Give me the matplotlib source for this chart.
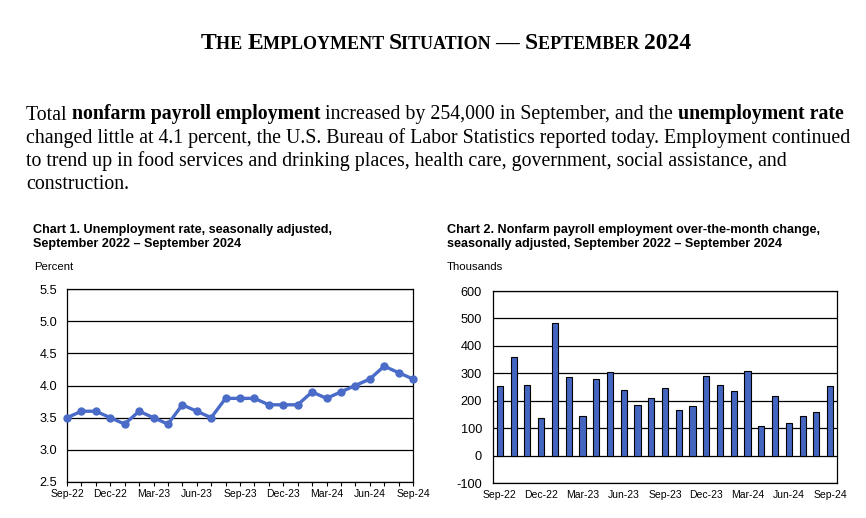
import matplotlib
matplotlib.use("Agg")
import matplotlib.pyplot as plt
import numpy as np

# monthly data, Sep 2022 - Sep 2024
months = ["Sep-22", "Oct-22", "Nov-22", "Dec-22", "Jan-23", "Feb-23", "Mar-23",
          "Apr-23", "May-23", "Jun-23", "Jul-23", "Aug-23", "Sep-23", "Oct-23",
          "Nov-23", "Dec-23", "Jan-24", "Feb-24", "Mar-24", "Apr-24", "May-24",
          "Jun-24", "Jul-24", "Aug-24", "Sep-24"]
unemp_rate = [3.5, 3.6, 3.6, 3.5, 3.4, 3.6, 3.5, 3.4, 3.7, 3.6, 3.5, 3.8, 3.8,
              3.8, 3.7, 3.7, 3.7, 3.9, 3.8, 3.9, 4.0, 4.1, 4.3, 4.2, 4.1]
payroll_chg = [255, 360, 258, 137, 484, 287, 146, 278, 303, 240, 184, 210, 246,
               165, 182, 290, 256, 236, 310, 108, 216, 118, 144, 159, 254]

title_parts = [("T", 17), ("HE ", 13), ("E", 17), ("MPLOYMENT ", 13),
               ("S", 17), ("ITUATION ", 13), ("— ", 17), ("S", 17),
               ("EPTEMBER ", 13), ("2024", 17)]
para_lines = [
    [("Total ", "normal"), ("nonfarm payroll employment", "bold"),
     (" increased by 254,000 in September, and the ", "normal"),
     ("unemployment rate", "bold")],
    [("changed little at 4.1 percent, the U.S. Bureau of Labor Statistics reported today. Employment continued", "normal")],
    [("to trend up in food services and drinking places, health care, government, social assistance, and", "normal")],
    [("construction.", "normal")],
]

plt.rcParams["axes.unicode_minus"] = False

W, H = 866, 518
fig = plt.figure(figsize=(W / 100, H / 100), dpi=100)
renderer = fig.canvas.get_renderer()
serif = "Liberation Serif"
sans = "Liberation Sans"


def px(x, y):
    return x / W, 1 - y / H


def run_text(parts, x0, y, style_fn):
    # draw pieces one after another on the same baseline
    x = x0
    for s, style in parts:
        t = fig.text(*px(x, y), s, va="baseline", ha="left", **style_fn(style))
        bb = t.get_window_extent(renderer)
        x = x + bb.width
    return x


# measure title width first to center it
tmp_w = 0
for s, sz in title_parts:
    t = fig.text(0, 0, s, fontsize=sz, fontweight="bold", family=serif)
    tmp_w += t.get_window_extent(renderer).width
    t.remove()
run_text(title_parts, 446 - tmp_w / 2, 49,
         lambda sz: dict(fontsize=sz, fontweight="bold", family=serif))

for i, line in enumerate(para_lines):
    run_text(line, 26, 119.5 + i * 23.3,
             lambda w: dict(fontsize=14.3, fontweight=w, family=serif))

# chart titles
fig.text(*px(33, 233), "Chart 1. Unemployment rate, seasonally adjusted,",
         fontsize=9.1, fontweight="bold", family=sans, va="baseline")
fig.text(*px(33, 247.5), "September 2022 \u2013 September 2024",
         fontsize=9.1, fontweight="bold", family=sans, va="baseline")
fig.text(*px(34, 270), "Percent", fontsize=8.2, family=sans, va="baseline")

fig.text(*px(447, 233), "Chart 2. Nonfarm payroll employment over-the-month change,",
         fontsize=9.1, fontweight="bold", family=sans, va="baseline")
fig.text(*px(447, 247.5), "seasonally adjusted, September 2022 \u2013 September 2024",
         fontsize=9.1, fontweight="bold", family=sans, va="baseline")
fig.text(*px(447, 270), "Thousands", fontsize=8.2, family=sans, va="baseline")

x = np.arange(len(months))
blue = "#4A6CC8"

# chart 1
l, t_, r, b = 67, 289, 413, 482
ax1 = fig.add_axes([l / W, 1 - b / H, (r - l) / W, (b - t_) / H])
ax1.plot(x, unemp_rate, color=blue, lw=2.4, marker="o", ms=5, zorder=3,
         clip_on=False)
ax1.set_xlim(0, len(months) - 1)
ax1.set_ylim(2.5, 5.5)
ax1.set_yticks(np.arange(2.5, 5.51, 0.5))
ax1.set_yticklabels([f"{v:.1f}" for v in np.arange(2.5, 5.51, 0.5)])
ax1.yaxis.grid(True, color="black", lw=0.9)
ax1.set_xticks(x)
ax1.set_xticklabels([m if i % 3 == 0 else "" for i, m in enumerate(months)])
ax1.tick_params(axis="x", length=3, width=0.8, labelsize=7.5, pad=2)
ax1.tick_params(axis="y", length=0, labelsize=9.2, pad=7)
for s in ax1.spines.values():
    s.set_linewidth(0.9)
for lab in ax1.get_xticklabels() + ax1.get_yticklabels():
    lab.set_family(sans)

# chart 2
l, t_, r, b = 493, 291, 837, 483
ax2 = fig.add_axes([l / W, 1 - b / H, (r - l) / W, (b - t_) / H])
ax2.bar(x, payroll_chg, width=0.45, color="#4466C0", edgecolor="black",
        lw=0.8, zorder=3)
ax2.set_xlim(-0.5, len(months) - 0.5)
ax2.set_ylim(-100, 600)
ax2.set_yticks(np.arange(-100, 601, 100))
ax2.yaxis.grid(True, color="black", lw=0.9)
ax2.set_axisbelow(True)
ax2.set_xticks(x[::3])
ax2.set_xticklabels(months[::3])
ax2.tick_params(axis="x", length=0, labelsize=7.5, pad=5)
ax2.tick_params(axis="y", length=0, labelsize=9.2, pad=8)
for s in ax2.spines.values():
    s.set_linewidth(0.9)
for lab in ax2.get_xticklabels() + ax2.get_yticklabels():
    lab.set_family(sans)

fig.savefig("out.png", dpi=100)
